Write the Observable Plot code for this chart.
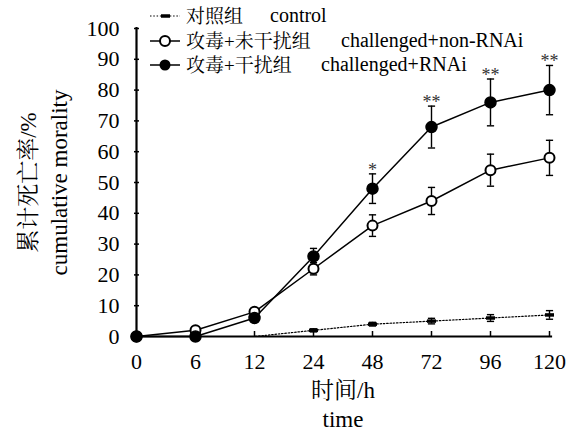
<!DOCTYPE html>
<html><head><meta charset="utf-8">
<script src="https://cdn.jsdelivr.net/npm/d3@7"></script>
<script src="https://cdn.jsdelivr.net/npm/@observablehq/plot@0.6"></script>
<style>
body{margin:0;background:#fff}
#wrap{position:relative;width:576px;height:436px}
#legend{position:absolute;left:0;top:0}
</style></head><body><div id="wrap"></div>
<script>
// ---- data ----
const times = ["0","6","12","24","48","72","96","120"];
const controlMean = [0,0,0,2,4,5,6,7];
const controlSD   = [0,0,0,0.5,0.6,0.9,1.1,1.4];
const nonRNAiMean = [0,2,8,22,36,44,54,58];
const nonRNAiSD   = [0,0.5,1,2,3.5,4.4,5.2,5.7];
const rnaiMean    = [0,0,6,26,48,68,76,80];
const rnaiSD      = [0,0,0.8,2.6,4.8,6.8,7.6,8];
const signif      = ["","","","","*","**","**","**"];
const yTicks = [0,10,20,30,40,50,60,70,80,90,100];
const seriesNames = {
  control: ["对照组","control"],
  nonRNAi: ["攻毒+未干扰组","challenged+non-RNAi"],
  rnai:    ["攻毒+干扰组","challenged+RNAi"]
};
const xTitle = ["时间/h","time"];
const yTitle = ["累计死亡率/%","cumulative morality"];

const FONT = '"Liberation Serif","Noto Serif CJK SC","Noto Sans CJK SC",serif';

const rows = (m, s) => times.map((t, i) => ({t, m: m[i], sd: s[i], sig: signif[i]}));
const control = rows(controlMean, controlSD);
const nonRNAi = rows(nonRNAiMean, nonRNAiSD);
const rnai = rows(rnaiMean, rnaiSD);

const cap = {draw(ctx, size){ const w = Math.sqrt(size/Math.PI); ctx.moveTo(-w,0); ctx.lineTo(w,0); }};

function errMarks(data){
  const d = data.filter(r => r.sd > 0);
  return [
    Plot.ruleX(d, {x:"t", y1: r => r.m - r.sd, y2: r => r.m + r.sd, stroke:"black", strokeWidth:1.4}),
    Plot.dot(d, {x:"t", y: r => r.m + r.sd, symbol: cap, r:3.6, stroke:"black", fill:"none", strokeWidth:1.4}),
    Plot.dot(d, {x:"t", y: r => r.m - r.sd, symbol: cap, r:3.6, stroke:"black", fill:"none", strokeWidth:1.4})
  ];
}

const chart = Plot.plot({
  width: 576, height: 436,
  marginLeft: 134, marginRight: 25, marginTop: 28, marginBottom: 100,
  x: {type:"point", domain: times, padding: 0, label: null},
  y: {domain:[0,100], label: null},
  style: {fontFamily: FONT, background:"white", color:"black"},
  marks: [
    Plot.axisY(yTicks, {tickSize:-5, tickPadding:20, fontSize:22, strokeWidth:1.5, label:null}),
    Plot.axisX(times, {tickSize:-5, tickPadding:22, fontSize:22, strokeWidth:1.5, label:null}),
    Plot.ruleY([0], {stroke:"black", strokeWidth:2.2, strokeLinecap:"square"}),
    Plot.ruleX([times[0]], {stroke:"black", strokeWidth:2.2, strokeLinecap:"square"}),
    Plot.line(control, {x:"t", y:"m", stroke:"black", strokeWidth:1.2, strokeDasharray:"1.5,1.8"}),
    Plot.line(nonRNAi, {x:"t", y:"m", stroke:"black", strokeWidth:1.5}),
    Plot.line(rnai, {x:"t", y:"m", stroke:"black", strokeWidth:1.5}),
    ...errMarks(control),
    ...errMarks(nonRNAi),
    ...errMarks(rnai),
    Plot.dot(control.filter(r => r.m > 0), {x:"t", y:"m", symbol: cap, r:4.5, stroke:"black", strokeWidth:3.5}),
    Plot.dot(nonRNAi, {x:"t", y:"m", r:5, fill:"white", stroke:"black", strokeWidth:2}),
    Plot.dot(rnai, {x:"t", y:"m", r:5.5, fill:"black", stroke:"black"}),
    Plot.text(rnai.filter(r => r.sig), {x:"t", y: r => r.m + r.sd, text:"sig", dy:-4, fontSize:18, fill:"#333"}),
    Plot.text([xTitle[0]], {frameAnchor:"bottom", dy:61, fontSize:23}),
    Plot.text([xTitle[1]], {frameAnchor:"bottom", dy:90, fontSize:23}),
    Plot.text([yTitle[0]], {frameAnchor:"left", textAnchor:"middle", rotate:-90, dx:-106, fontSize:23}),
    Plot.text([yTitle[1]], {frameAnchor:"left", textAnchor:"middle", rotate:-90, dx:-75, fontSize:23})
  ]
});
const wrap = document.getElementById("wrap");
wrap.appendChild(chart);

// ---- legend overlay ----
const leg = d3.select(wrap).append("svg").attr("id","legend")
  .attr("width",576).attr("height",90)
  .style("font-family", FONT).style("font-size","19px");
const items = [
  {key:"control", y:16, enX:270},
  {key:"nonRNAi", y:41, enX:341},
  {key:"rnai", y:65, enX:321}
];
items.forEach(it => {
  const g = leg.append("g");
  const ln = g.append("line").attr("x1",150).attr("x2",180).attr("y1",it.y).attr("y2",it.y)
    .attr("stroke","black").attr("stroke-width", it.key==="control"?1.2:1.5);
  if (it.key==="control") {
    ln.attr("stroke-dasharray","1.5,1.8");
    g.append("line").attr("x1",161).attr("x2",170).attr("y1",it.y).attr("y2",it.y)
      .attr("stroke","black").attr("stroke-width",3.5);
  } else if (it.key==="nonRNAi") {
    g.append("circle").attr("cx",165).attr("cy",it.y).attr("r",5).attr("fill","white").attr("stroke","black").attr("stroke-width",2);
  } else {
    g.append("circle").attr("cx",165).attr("cy",it.y).attr("r",5.5).attr("fill","black");
  }
  g.append("text").attr("x",186).attr("y",it.y).attr("dy","0.35em").text(seriesNames[it.key][0]);
  g.append("text").attr("x",it.enX).attr("y",it.y).attr("dy","0.32em").style("font-size","20px").text(seriesNames[it.key][1]);
});
</script>
</body></html>
